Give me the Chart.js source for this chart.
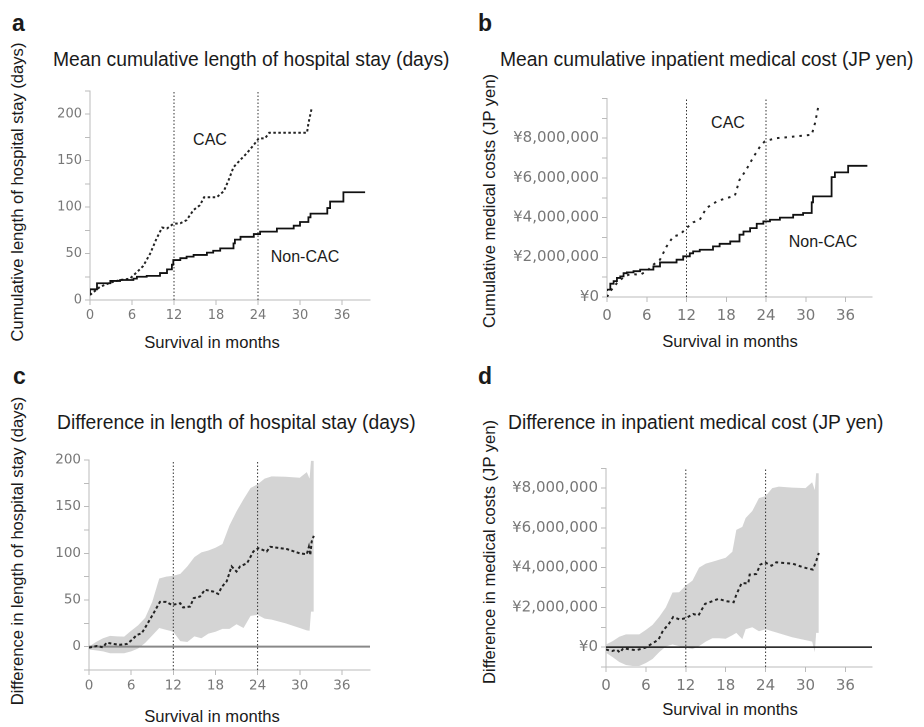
<!DOCTYPE html>
<html>
<head>
<meta charset="utf-8">
<script src="https://cdn.jsdelivr.net/npm/chart.js@4.4.1/dist/chart.umd.min.js"></script>
<style>
  html, body { margin: 0; padding: 0; background: #fff; }
  body { position: relative; width: 924px; height: 727px; overflow: hidden; }
  .panel { position: absolute; }
  .t { position: absolute; font-family: 'Liberation Sans', Arial, sans-serif; color: #1a1a1a;
       white-space: nowrap; line-height: 1; transform: translateY(-50%); }
  .c { transform: translate(-50%, -50%); }
  .v { transform: translate(-50%, -50%) rotate(-90deg); font-size: 16.6px; }
  .letter { font-weight: bold; font-size: 23px; }
  .title { font-size: 19.3px; }
  .note { font-size: 16px; }
  .xt { font-size: 16.6px; }
</style>
</head>
<body>

<!-- panel letters / titles -->
<div class="t letter" style="left:12px;top:23px">a</div>
<div class="t letter" style="left:478px;top:23px">b</div>
<div class="t letter" style="left:13px;top:376px">c</div>
<div class="t letter" style="left:478px;top:376px">d</div>

<div class="t title" style="left:53px;top:60px">Mean cumulative length of hospital stay (days)</div>
<div class="t title" style="left:500px;top:60px">Mean cumulative inpatient medical cost (JP yen)</div>
<div class="t title" style="left:57px;top:423px">Difference in length of hospital stay (days)</div>
<div class="t title" style="left:508px;top:423px">Difference in inpatient medical cost (JP yen)</div>

<div class="t v" style="left:18px;top:192px">Cumulative length of hospital stay (days)</div>
<div class="t v" style="left:490px;top:201px">Cumulative medical costs (JP yen)</div>
<div class="t v" style="left:18px;top:551px">Difference in length of hospital stay (days)</div>
<div class="t v" style="left:490px;top:552px">Difference in medical costs (JP yen)</div>

<div class="t c xt" style="left:212px;top:343px">Survival in months</div>
<div class="t c xt" style="left:730px;top:342px">Survival in months</div>
<div class="t c xt" style="left:212px;top:717px">Survival in months</div>
<div class="t c xt" style="left:730px;top:710px">Survival in months</div>

<div class="t c note" style="left:210px;top:140px">CAC</div>
<div class="t c note" style="left:305px;top:257px">Non-CAC</div>
<div class="t c note" style="left:728px;top:123px">CAC</div>
<div class="t c note" style="left:823px;top:242px">Non-CAC</div>

<div class="panel" style="left:30px;top:80px;width:360px;height:250px"><canvas id="chartA"></canvas></div>
<div class="panel" style="left:500px;top:80px;width:400px;height:250px"><canvas id="chartB"></canvas></div>
<div class="panel" style="left:30px;top:440px;width:360px;height:260px"><canvas id="chartC"></canvas></div>
<div class="panel" style="left:500px;top:440px;width:400px;height:260px"><canvas id="chartD"></canvas></div>

<script>
// ── Shared axis values ─────────────────────────────────
const X_MAX = 40;
const X_TICKS = [0, 6, 12, 18, 24, 30, 36];
const REF_MONTHS = [12, 24];

// ── a: cumulative length of stay (days) ────────────────
const A_Y_TICKS = [0, 25, 50, 75, 100, 125, 150, 175, 200, 225];
const A_NONCAC_M = [0, 1, 2.9, 4.3, 6.2, 6.7, 8.1, 10, 11, 11.7, 11.9, 12.9, 13.8, 14.8, 16.7, 17.6, 18.6, 20.5, 20.7, 21.5, 23.4, 24.3, 26.7, 29.1, 30, 31.2, 31.5, 33.9, 34.3, 36.2, 37.4, 39.3];
const A_NONCAC   = [5.4, 11.5, 18, 20.5, 21.5, 23, 25, 26, 29, 33, 38, 43, 45, 46.7, 48.5, 51, 53, 55.6, 61, 65, 68, 71, 73.6, 77, 80, 84, 89, 93, 99, 106, 116, 116];
const A_CAC_M    = [0, 1.4, 2.9, 4.3, 5.7, 6.7, 7.6, 8.6, 9.5, 10.3, 11, 11.9, 12.9, 13.8, 14.8, 15.7, 16.3, 18.1, 19.1, 19.8, 20.5, 21.5, 22.4, 23.4, 24.1, 25, 25.6, 31, 31.2, 31.7];
const A_CAC      = [5.4, 14, 18.7, 21.5, 23, 30, 36.6, 50, 66, 78, 77, 82, 82.6, 86, 97, 102, 110.6, 110.6, 117, 129, 143, 151, 158, 167, 174, 174, 180, 180, 190, 207.5];

// ── b: cumulative inpatient cost (yen) ─────────────────
const B_Y_TICKS = [0, 1e6, 2e6, 3e6, 4e6, 5e6, 6e6, 7e6, 8e6, 9e6, 10e6];
const B_NONCAC_M = [0, 0.5, 1, 1.5, 2, 2.5, 3, 4, 5, 7, 8, 10.5, 11.5, 12.5, 13, 14, 16, 17, 18.6, 20, 20.6, 21.6, 22.6, 23.6, 24.6, 26.1, 28.1, 29.6, 30.9, 31.1, 33.9, 34.4, 36.4, 37.4, 39.3];
const B_NONCAC   = [300000, 370000, 670000, 800000, 960000, 1040000, 1200000, 1240000, 1300000, 1380000, 1540000, 1740000, 1880000, 2050000, 2200000, 2300000, 2380000, 2550000, 2680000, 2800000, 3140000, 3300000, 3470000, 3690000, 3810000, 3890000, 4000000, 4140000, 4230000, 4770000, 5070000, 6040000, 6280000, 6610000, 6610000];
const B_CAC_M    = [0, 0.5, 1.5, 2.5, 3.5, 5, 6, 7, 8, 9, 10, 11, 12, 13, 14, 15, 16.6, 18, 19.3, 20, 21, 22.1, 23.1, 23.8, 24.6, 25.6, 30.9, 31.4, 31.9];
const B_CAC      = [0, 290000, 700000, 1000000, 1160000, 1120000, 1300000, 1630000, 1880000, 2550000, 3050000, 3140000, 3470000, 3760000, 3890000, 4480000, 4820000, 4980000, 5100000, 5900000, 6400000, 7050000, 7580000, 7840000, 7920000, 8000000, 8170000, 8760000, 9600000];

// ── c: difference in length of stay (days) ─────────────
const C_Y_TICKS = [-25, 0, 25, 50, 75, 100, 125, 150, 175, 200];
const C_MEAN_M = [0, 1.1, 2, 2.5, 3.5, 4.4, 5.4, 6.1, 6.8, 7.5, 8.2, 9.2, 10.1, 11, 11.8, 13, 13.4, 14.4, 14.9, 15.8, 16.5, 17.7, 18.4, 18.9, 19.6, 20.3, 21, 21.5, 22.5, 23.4, 24.1, 25.3, 25.8, 28.2, 30, 31, 31.3, 31.5, 31.7, 32];
const C_MEAN   = [-1, 0.7, -0.7, 4.3, 2.9, 2.1, 2.9, 7.2, 12.5, 14.3, 23, 36, 48, 48, 44.7, 46.5, 42, 43, 52, 53.7, 61, 59, 56.5, 64, 70, 86, 80.5, 86, 89.4, 102, 105.5, 102, 107, 104.5, 100, 99, 107, 98, 112.7, 118.8];
const C_BAND_M = [0, 1, 2, 3, 4, 5, 6, 7, 8, 9, 10, 11, 12, 13, 14, 15, 16, 17, 18, 19, 20, 21, 22, 23, 24, 25, 26, 28, 30, 31, 31.4, 31.6, 32];
const C_UPPER  = [0, 5, 9, 11.5, 11, 10.7, 17, 23, 31, 48, 73, 75, 76, 78, 86, 96, 101, 103, 106, 110, 130, 145, 158, 170, 174, 180, 182.5, 182, 181, 187, 180, 199, 199];
const C_LOWER  = [-3, -4, -5, -7, -7, -7, -5, -2, 4, 12, 20, 18, 16, 6, 5, 11, 9, 14, 16, 19, 19, 24, 20, 33, 34, 30, 29, 25, 20, 17.5, 17, 37.6, 37.6];

// ── d: difference in inpatient cost (yen) ──────────────
const D_Y_TICKS = [-1e6, 0, 1e6, 2e6, 3e6, 4e6, 5e6, 6e6, 7e6, 8e6, 9e6];
const D_MEAN_M = [0, 0.9, 1.6, 2.1, 2.6, 3.6, 4.6, 5.9, 6.9, 7.9, 8.6, 9.4, 10.1, 11.1, 12.1, 13.1, 13.9, 14.9, 15.6, 16.9, 18.1, 19.2, 19.6, 20.4, 21.4, 21.6, 22.6, 23.2, 23.9, 24.9, 25.6, 28.1, 29.2, 30.1, 31.1, 31.6, 32];
const D_MEAN   = [-120000, -200000, -120000, -280000, -50000, -120000, -150000, -30000, 170000, 380000, 850000, 1140000, 1520000, 1390000, 1470000, 1670000, 1590000, 2180000, 2260000, 2430000, 2310000, 2260000, 2640000, 3230000, 3200000, 3650000, 3680000, 4150000, 4270000, 4100000, 4270000, 4200000, 4070000, 3980000, 3900000, 4320000, 4740000];
const D_BAND_M = [0, 1, 2, 3, 4, 5, 6, 7, 8, 9, 10, 11, 12, 13, 14, 15, 16, 17, 18, 19, 19.6, 20.5, 21, 22, 23, 24, 25, 26, 28, 30, 31, 31.4, 31.6, 32];
const D_UPPER  = [130000, 300000, 520000, 640000, 640000, 640000, 870000, 1120000, 1520000, 2000000, 2750000, 2760000, 3100000, 3350000, 4000000, 4200000, 4300000, 4400000, 4500000, 4800000, 5900000, 6050000, 6500000, 6850000, 7500000, 7600000, 8000000, 8080000, 8030000, 8000000, 8300000, 7900000, 8750000, 8750000];
const D_LOWER  = [-280000, -500000, -750000, -900000, -950000, -950000, -800000, -600000, -250000, 30000, 130000, 50000, -30000, -100000, 50000, 280000, 450000, 450000, 420000, 600000, 720000, 400000, 900000, 1000000, 800000, 900000, 800000, 700000, 500000, 350000, 280000, -250000, 720000, 720000];

// ── helpers ────────────────────────────────────────────
const pts = (xs, ys) => xs.map((x, i) => ({ x, y: ys[i] }));
const yen = v => '¥' + v.toLocaleString('en-US');

function refLines(yMin, yMax) {
  return REF_MONTHS.map(m => ({
    data: [{ x: m, y: yMin }, { x: m, y: yMax }],
    borderColor: '#333', borderWidth: 1, borderDash: [1.5, 2], pointRadius: 0
  }));
}

function makeChart(id, p, datasets) {
  const tickFont = { family: 'DejaVu Sans', size: p.fs };
  new Chart(document.getElementById(id), {
    type: 'line',
    data: { datasets },
    options: {
      animation: false,
      responsive: true,
      maintainAspectRatio: false,
      devicePixelRatio: 2,
      layout: { padding: { left: 0, bottom: 0, top: p.padTop, right: p.padRight } },
      plugins: { legend: { display: false }, tooltip: { enabled: false } },
      elements: { point: { radius: 0 }, line: { tension: 0 } },
      scales: {
        x: {
          type: 'linear', min: 0, max: X_MAX,
          afterBuildTicks: s => { s.ticks = X_TICKS.map(v => ({ value: v })); },
          afterFit: s => { s.height = p.xh; },
          grid: { drawOnChartArea: false, tickLength: 5, color: '#bbb' },
          border: { color: '#bbb' },
          ticks: { font: tickFont, color: '#777', padding: p.xpad, maxRotation: 0, autoSkip: false }
        },
        y: {
          type: 'linear', min: p.yTicks[0], max: p.yTicks[p.yTicks.length - 1],
          afterBuildTicks: s => { s.ticks = p.yTicks.map(v => ({ value: v })); },
          afterFit: s => { s.width = p.yw; },
          grid: { drawOnChartArea: false, tickLength: 5, color: '#bbb' },
          border: { color: '#bbb' },
          ticks: { font: tickFont, color: '#777', padding: 3, autoSkip: false, callback: p.label }
        }
      }
    }
  });
}

// ── panel a ──
makeChart('chartA',
  { padTop: 11, padRight: 20, yw: 60, xh: 30, xpad: 3, fs: 13, yTicks: A_Y_TICKS,
    label: v => v % 50 === 0 && v <= 200 ? String(v) : '' },
  [
    { data: pts(A_NONCAC_M, A_NONCAC), stepped: 'after', borderColor: '#111', borderWidth: 1.8 },
    { data: pts(A_CAC_M, A_CAC), borderColor: '#222', borderWidth: 2, borderDash: [2.5, 2.5] },
    ...refLines(0, 225)
  ]);

// ── panel b ──
makeChart('chartB',
  { padTop: 18.5, padRight: 28, yw: 107, xh: 33, xpad: 5, fs: 15, yTicks: B_Y_TICKS,
    label: v => v % 2e6 === 0 && v <= 8e6 ? yen(v) : '' },
  [
    { data: pts(B_NONCAC_M, B_NONCAC), stepped: 'after', borderColor: '#111', borderWidth: 1.8 },
    { data: pts(B_CAC_M, B_CAC), borderColor: '#222', borderWidth: 2, borderDash: [2.5, 5] },
    ...refLines(0, 10e6)
  ]);

// ── panel c ──
makeChart('chartC',
  { padTop: 20, padRight: 20, yw: 59, xh: 30, xpad: 3, fs: 13.5, yTicks: C_Y_TICKS,
    label: v => v >= 0 && v % 50 === 0 ? String(v) : '' },
  [
    { data: pts(C_MEAN_M, C_MEAN), borderColor: '#222', borderWidth: 2, borderDash: [3, 2.5] },
    ...refLines(-25, 200),
    { data: [{ x: 0, y: 0 }, { x: X_MAX, y: 0 }], borderColor: '#888', borderWidth: 2 },
    { data: pts(C_BAND_M, C_UPPER), borderWidth: 0, borderColor: 'rgba(0,0,0,0)', backgroundColor: '#d4d4d4', fill: '+1' },
    { data: pts(C_BAND_M, C_LOWER), borderWidth: 0, borderColor: 'rgba(0,0,0,0)' }
  ]);

// ── panel d ──
makeChart('chartD',
  { padTop: 28.3, padRight: 28, yw: 106, xh: 33, xpad: 5, fs: 15, yTicks: D_Y_TICKS,
    label: v => v >= 0 && v % 2e6 === 0 ? yen(v) : '' },
  [
    { data: pts(D_MEAN_M, D_MEAN), borderColor: '#222', borderWidth: 2, borderDash: [3, 3] },
    ...refLines(-1e6, 9e6),
    { data: [{ x: 0, y: 0 }, { x: X_MAX, y: 0 }], borderColor: '#111', borderWidth: 1.6 },
    { data: pts(D_BAND_M, D_UPPER), borderWidth: 0, borderColor: 'rgba(0,0,0,0)', backgroundColor: '#d4d4d4', fill: '+1' },
    { data: pts(D_BAND_M, D_LOWER), borderWidth: 0, borderColor: 'rgba(0,0,0,0)' }
  ]);
</script>
</body>
</html>
